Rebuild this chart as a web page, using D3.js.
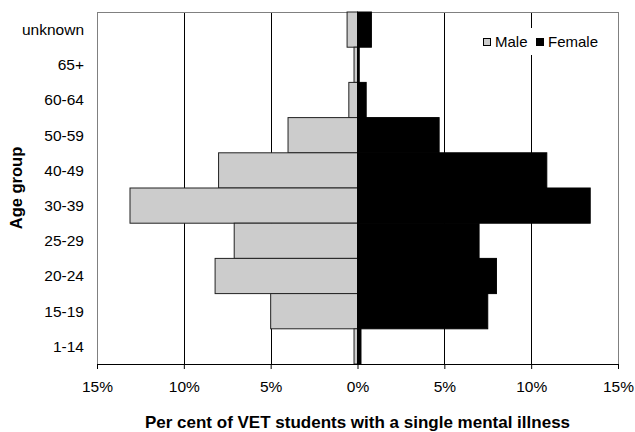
<!DOCTYPE html>
<html>
<head>
<meta charset="utf-8">
<script src="https://cdn.jsdelivr.net/npm/d3@7"></script>
<style>
body { margin: 0; background: #fff; }
text { font-family: "Liberation Sans", Arial, sans-serif; fill: #000; }
</style>
</head>
<body>
<div id="chart"></div>
<script>
// age groups, top to bottom
var ageGroups = ["unknown", "65+", "60-64", "50-59", "40-49", "30-39", "25-29", "20-24", "15-19", "1-14"];
// per cent of VET students, by sex
var male = [0.6, 0.2, 0.5, 4.0, 8.0, 13.1, 7.1, 8.2, 5.0, 0.2];
var female = [0.8, 0.1, 0.5, 4.7, 10.9, 13.4, 7.0, 8.0, 7.5, 0.2];
var xTicks = [-15, -10, -5, 0, 5, 10, 15];

var width = 635;
var height = 432;
// plot area edges (note: "top" is taken by window.top)
var plotLeft = 97, plotRight = 618, plotTop = 12, plotBottom = 364;

var svg = d3.select("#chart")
    .append("svg")
    .attr("width", width)
    .attr("height", height);

var x = d3.scaleLinear()
    .domain([-15, 15])
    .range([plotLeft, plotRight]);

var y = d3.scaleBand()
    .domain(ageGroups)
    .range([plotTop, plotBottom])
    .padding(0);

// vertical gridlines
svg.append("g")
    .selectAll("line")
    .data(xTicks.filter(function(d) { return Math.abs(d) != 15 && d != 0; }))
    .enter().append("line")
    .attr("x1", function(d) { return Math.round(x(d)) + 0.5; })
    .attr("x2", function(d) { return Math.round(x(d)) + 0.5; })
    .attr("y1", plotTop)
    .attr("y2", plotBottom)
    .attr("stroke", "#000")
    .attr("stroke-width", 1);

// plot border
svg.append("rect")
    .attr("x", plotLeft + 0.5)
    .attr("y", plotTop + 0.5)
    .attr("width", plotRight - plotLeft)
    .attr("height", plotBottom - plotTop)
    .attr("fill", "none")
    .attr("stroke", "#808080")
    .attr("stroke-width", 1);

// male bars, to the left
svg.append("g")
    .selectAll("rect")
    .data(male)
    .enter().append("rect")
    .attr("x", function(d) { return x(-d); })
    .attr("y", function(d, i) { return y(ageGroups[i]); })
    .attr("width", function(d) { return x(0) - x(-d); })
    .attr("height", y.bandwidth())
    .attr("fill", "#cccccc")
    .attr("stroke", "#222")
    .attr("stroke-width", 1);

// female bars, to the right
svg.append("g")
    .selectAll("rect")
    .data(female)
    .enter().append("rect")
    .attr("x", x(0))
    .attr("y", function(d, i) { return y(ageGroups[i]); })
    .attr("width", function(d) { return x(d) - x(0); })
    .attr("height", y.bandwidth())
    .attr("fill", "#000")
    .attr("stroke", "#000")
    .attr("stroke-width", 1);

// x axis
var xAxis = svg.append("g")
    .attr("transform", "translate(0," + plotBottom + ")")
    .call(d3.axisBottom(x)
        .tickValues(xTicks)
        .tickSize(5)
        .tickPadding(12)
        .tickFormat(function(d) { return Math.abs(d) + "%"; }));
xAxis.select(".domain").attr("stroke", "#000").attr("d", "M" + plotLeft + ",0.5H" + (plotRight + 1));
xAxis.selectAll("line").attr("stroke", "#000");
xAxis.selectAll("text")
    .style("font-size", "15.5px")
    .style("font-family", "Liberation Sans, Arial, sans-serif");

// y axis labels
svg.append("g")
    .selectAll("text")
    .data(ageGroups)
    .enter().append("text")
    .attr("x", 84)
    .attr("y", function(d) { return y(d) + y.bandwidth() / 2; })
    .attr("dy", "0.35em")
    .style("text-anchor", "end")
    .style("font-size", "15.5px")
    .text(function(d) { return d; });

// axis titles
svg.append("text")
    .attr("x", (plotLeft + plotRight) / 2)
    .attr("y", 428)
    .style("text-anchor", "middle")
    .style("font-size", "17px")
    .style("font-weight", "bold")
    .text("Per cent of VET students with a single mental illness");

svg.append("text")
    .attr("transform", "translate(22," + ((plotTop + plotBottom) / 2) + ") rotate(-90)")
    .style("text-anchor", "middle")
    .style("font-size", "16.5px")
    .style("font-weight", "bold")
    .text("Age group");

// legend, with a white box that hides the gridline behind it
var legend = svg.append("g").attr("transform", "translate(483,42)");
legend.append("rect")
    .attr("x", -5)
    .attr("y", -14)
    .attr("width", 122)
    .attr("height", 27)
    .attr("fill", "#fff");
var legendItems = [
    { name: "Male", fill: "#cccccc", dx: 0 },
    { name: "Female", fill: "#000", dx: 53 }
];
legendItems.forEach(function(item) {
    legend.append("rect")
        .attr("x", item.dx + 0.5)
        .attr("y", -3.5)
        .attr("width", 7)
        .attr("height", 7)
        .attr("fill", item.fill)
        .attr("stroke", "#000")
        .attr("stroke-width", 1);
    legend.append("text")
        .attr("x", item.dx + 12)
        .attr("y", 0)
        .attr("dy", "0.35em")
        .style("font-size", "15px")
        .text(item.name);
});
</script>
</body>
</html>
